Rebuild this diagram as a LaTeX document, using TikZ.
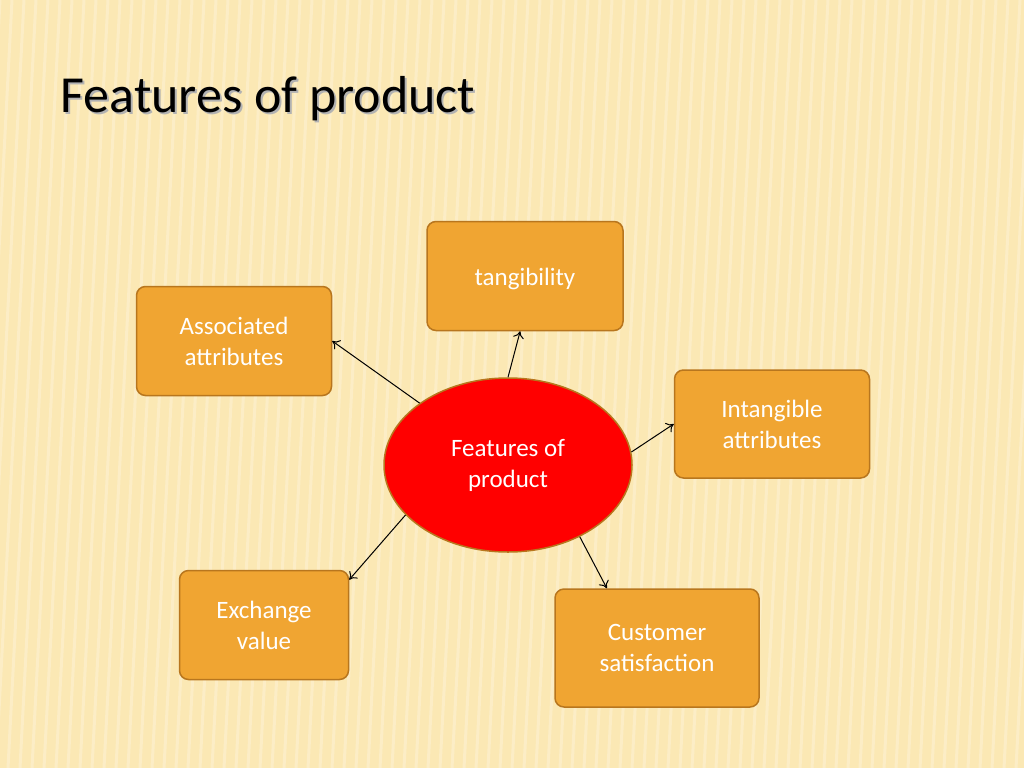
\documentclass[tikz,border=0pt]{standalone}
\usepackage{fontspec}
\setmainfont{Carlito}
\usetikzlibrary{shapes.geometric,arrows.meta}
\definecolor{bg}{HTML}{FBE8B4}
\definecolor{boxf}{HTML}{F0A532}
\definecolor{boxd}{HTML}{B8761E}
\tikzset{
 box/.style={draw=boxd,line width=1.5pt,fill=boxf,rounded corners=9pt,minimum width=#1,align=center,font=\fontsize{25}{31}\selectfont,text=white},
 arr/.style={-{To[length=7pt,width=11pt]},line width=1pt},
}
\begin{document}
\begin{tikzpicture}[x=1pt,y=-1pt]
\useasboundingbox (0,0) rectangle (1024,768);
\fill[bg] (0,0) rectangle (1024,768);
\begin{scope}
\clip (0,0) rectangle (1024,768);
\foreach \i in {0,12,...,1100} \draw[white,opacity=0.25,line width=3pt] (\i,0) -- (\i-40,768);
\end{scope}
\node[anchor=base west,font=\fontsize{52}{60}\selectfont,text=gray!60] (ts) at (59,114) {Features of product};
\node[anchor=base west,font=\fontsize{52}{60}\selectfont] (title) at (57,112) {Features of product};
\node[box=196pt,minimum height=109pt] (t) at (525,276) {};
\node[anchor=center,font=\fontsize{25}{31}\selectfont,text=white] (tl) at (525,279) {tangibility};
\node[box=195pt,minimum height=109pt] (a) at (234,341) {Associated\\attributes};
\node[box=195pt,minimum height=108pt] (i) at (772,424) {Intangible\\attributes};
\node[box=169pt,minimum height=109pt] (x) at (264,625) {Exchange\\value};
\node[box=204pt,minimum height=118pt] (c) at (657,648) {Customer\\satisfaction};
\node[ellipse,draw=boxd,line width=1.5pt,fill=red,minimum width=248pt,minimum height=174pt,inner sep=0pt,align=center,text=white,font=\fontsize{25}{31}\selectfont] (e) at (508,465) {Features of\\product};
\draw[arr] (e.north) -- (t.265);
\draw[arr] (e.145) -- (a.east);
\draw[arr] (e.6) -- (i.west);
\draw[arr] (e.206) -- (x.28);
\draw[arr] (e.315) -- (c.130);
\end{tikzpicture}
\end{document}
